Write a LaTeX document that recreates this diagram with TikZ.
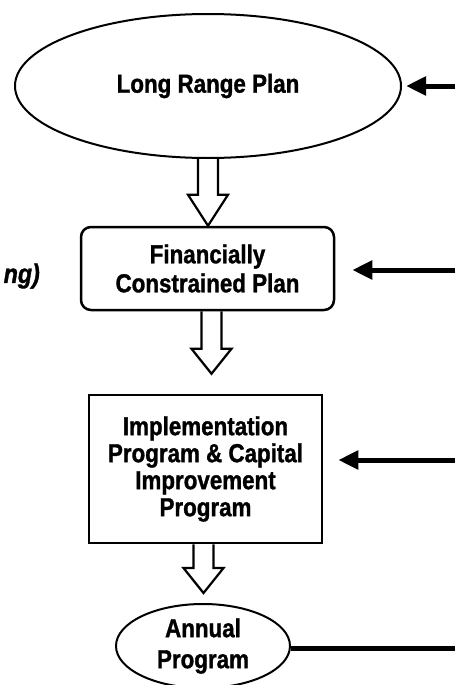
\documentclass[tikz,border=0pt]{standalone}
\usepackage{fontspec}
\setmainfont{Liberation Sans}[FakeStretch=0.86,FakeBold=1.2]
\usetikzlibrary{shapes.geometric,arrows.meta,calc}
\newcommand\hollowdown[5]{%
  \draw[hollowline] let \p1=(#1), \p2=(#2) in
   (\x1+#3-10pt,\y1) -- (\x1+#3-10pt,\y2+#4+#5) -- (\x1+#3-20pt,\y2+#4+#5)
   -- (\x1+#3,\y2+#4) -- (\x1+#3+20pt,\y2+#4+#5) -- (\x1+#3+10pt,\y2+#4+#5)
   -- (\x1+#3+10pt,\y1);}
\begin{document}
\begin{tikzpicture}[x=1pt,y=-1pt,
  lbl/.style={font=\fontsize{26}{27}\selectfont\bfseries, align=center, text=black},
  ellnode/.style={ellipse, draw, line width=2pt, inner sep=0pt, lbl},
  rboxnode/.style={rectangle, rounded corners=10pt, draw, line width=2.5pt, inner sep=0pt, lbl},
  boxnode/.style={rectangle, draw, line width=2.5pt, inner sep=0pt, lbl},
  inarrow/.style={line width=5pt, -{Triangle[length=20pt,width=18pt]}},
  hollowline/.style={line width=2.2pt, line join=miter},
]
\useasboundingbox (0,0) rectangle (455,685);
\fill[white] (0,0) rectangle (455,685);

\node[ellnode, minimum width=386pt, minimum height=144pt] (e1) at (208,86) {\raisebox{-3pt}{Long Range Plan}};
\node[rboxnode, minimum width=253pt, minimum height=83pt, font=\fontsize{26}{29}\selectfont\bfseries] (b2) at (207.5,268.5) {Financially\\Constrained Plan};
\node[boxnode, minimum width=233pt, minimum height=148pt] (b3) at (205.5,469) {Implementation\\Program \& Capital\\Improvement\\Program};
\node[ellnode, minimum width=174pt, minimum height=84pt, font=\fontsize{26}{31}\selectfont\bfseries] (e4) at (203,646) {Annual\\Program};

\node[font=\fontsize{27}{27}\selectfont\bfseries\itshape, anchor=east, inner sep=0pt] (cut) at (40,276) {ng)};

\coordinate (r1) at (455,86);
\coordinate (r2) at (455,270);
\coordinate (r3) at (455,460);
\coordinate (r4) at (455,648);

\draw[inarrow, shorten >=4pt] (r1) -- (e1.east);
\draw[inarrow, shorten >=17pt] (r2) -- (r2 -| b2.east);
\draw[inarrow, shorten >=15pt] (r3) -- (r3 -| b3.east);
\draw[line width=5pt] (r4) -- (r4 -| e4.east);

\hollowdown{e1.south}{b2.north}{0pt}{0pt}{31pt}
\hollowdown{b2.south}{b3.north}{4pt}{20pt}{25pt}
\hollowdown{b3.south}{e4.north}{-2pt}{10pt}{25pt}
\end{tikzpicture}
\end{document}
